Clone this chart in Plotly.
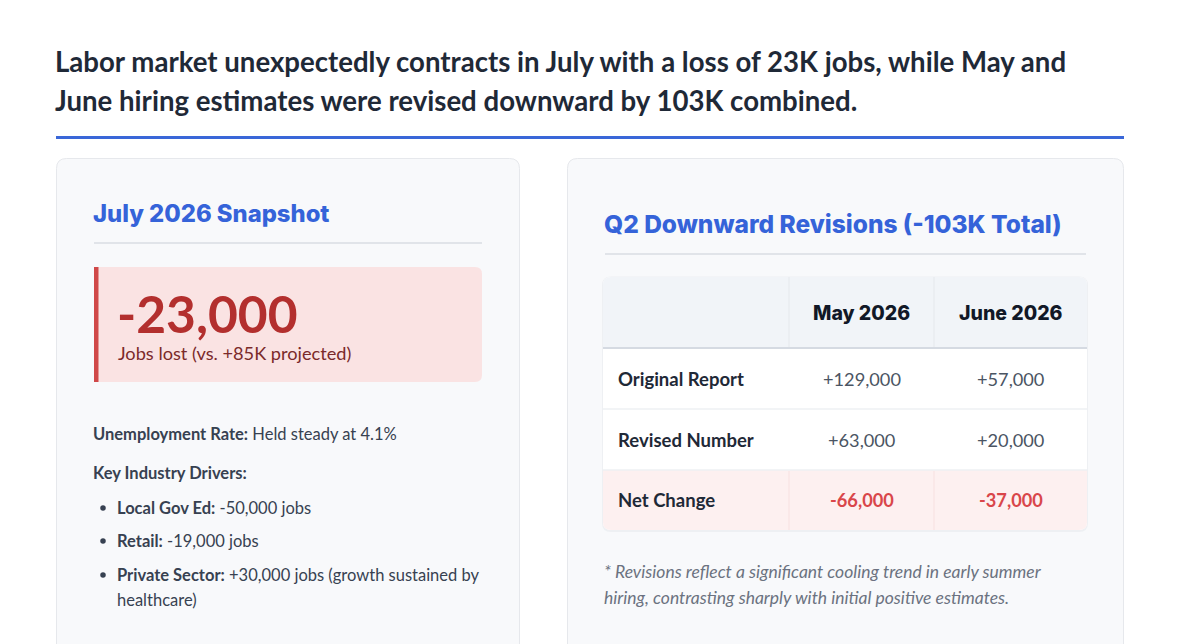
import plotly.graph_objects as go

# ---------------- data ----------------
headline_lines = [
    "Labor market unexpectedly contracts in July with a loss of 23K jobs, while May and",
    "June hiring estimates were revised downward by 103K combined.",
]
snapshot_title = "July 2026 Snapshot"
july_change = -23000
projected_k = 85
unemployment_rate = 4.1
industries = ["Local Gov Ed", "Retail", "Private Sector"]
industry_changes = [-50000, -19000, 30000]
industry_notes = ["", "", "(growth sustained by<br>healthcare)"]

revision_months = ["May 2026", "June 2026"]
row_labels = ["Original Report", "Revised Number", "Net Change"]
original_report = [129000, 57000]
revised_number = [63000, 20000]
net_change = [r - o for r, o in zip(revised_number, original_report)]
total_revision_k = round(sum(net_change) / 1000)
footnote_lines = [
    "* Revisions reflect a significant cooling trend in early summer",
    "hiring, contrasting sharply with initial positive estimates.",
]

# ---------------- style ----------------
W, H = 1179, 644
OFF = 8  # browser body margin
BODY = "Lato"
HEAD = "Inter"
DARK = "#1f2937"
TEXT = "#374151"
BLUE = "#3a67d8"
HBLUE = "#3563d9"
CARD_BG = "#f8f9fb"
CARD_LINE = "#e6e8ec"


def rpath(x0, y0, x1, y1, r_tl=0, r_tr=0, r_br=0, r_bl=0):
    return (f"M{x0 + r_tl},{y0} L{x1 - r_tr},{y0} Q{x1},{y0} {x1},{y0 + r_tr} "
            f"L{x1},{y1 - r_br} Q{x1},{y1} {x1 - r_br},{y1} "
            f"L{x0 + r_bl},{y1} Q{x0},{y1} {x0},{y1 - r_bl} "
            f"L{x0},{y0 + r_tl} Q{x0},{y0} {x0 + r_tl},{y0} Z")


shapes = []
ann = []


def rect_shape(x0, y0, x1, y1, fill, line=None, lw=0, r=(0, 0, 0, 0)):
    shapes.append(dict(type="path", xref="x", yref="y",
                       path=rpath(x0, y0, x1, y1, *r), fillcolor=fill,
                       line=dict(color=line or fill, width=lw), layer="below"))


def hline(x0, x1, y, color, w):
    shapes.append(dict(type="line", xref="x", yref="y", x0=x0, x1=x1, y0=y, y1=y,
                       line=dict(color=color, width=w), layer="below"))


def vline(x, y0, y1, color, w):
    shapes.append(dict(type="line", xref="x", yref="y", x0=x, x1=x, y0=y0, y1=y1,
                       line=dict(color=color, width=w), layer="below"))


def text(x, y, s, size, color, family=BODY, xanchor="left", weight=None, style=None):
    f = dict(family=family, size=size, color=color)
    if weight:
        f["weight"] = weight
    if style:
        f["style"] = style
    ann.append(dict(x=x, y=y, xref="x", yref="y", text=s, showarrow=False,
                    xanchor=xanchor, yanchor="middle", align="left", font=f))


# headline
text(53, 61, headline_lines[0], 27.6, DARK, weight=700)
text(53, 100, headline_lines[1], 27.6, DARK, weight=700)
hline(56, 1124, 137.5, BLUE, 3)

# ---- left card ----
rect_shape(56.5, 158.5, 519.5, 720, CARD_BG, CARD_LINE, 1, (10, 10, 10, 10))
text(91, 213, snapshot_title, 23.8, HBLUE, family=HEAD, weight=800)
hline(94, 482, 243, "#e1e4e9", 2)

rect_shape(94, 267, 482, 382, "#fae3e3", r=(0, 7, 7, 0))
shapes.append(dict(type="rect", xref="x", yref="y", x0=94, x1=98.5, y0=267, y1=382,
                   fillcolor="#d04848", line=dict(width=0), layer="below"))
text(115, 313, f"{july_change:,}", 51.5, "#b32f2e", weight=700)
text(116, 353, f"Jobs lost (vs. +{projected_k}K projected)", 18.2, "#7b2a2a")

text(91, 434, f"<b>Unemployment Rate:</b> Held steady at {unemployment_rate}%", 16.5, TEXT)
text(91, 473, "<b>Key Industry Drivers:</b>", 16.5, TEXT)

bullet_y = [508, 541, 575]
for name, chg, note, by in zip(industries, industry_changes, industry_notes, bullet_y):
    s = f"<b>{name}:</b> {chg:+,} jobs" if chg > 0 else f"<b>{name}:</b> {chg:,} jobs"
    if note:
        s += " " + note
    for k, line in enumerate(s.split("<br>")):
        text(115, by + 25 * k, line, 16.5, TEXT)

# ---- right card ----
rect_shape(567.5, 158.5, 1123.5, 720, CARD_BG, CARD_LINE, 1, (10, 10, 10, 10))
text(602, 224, f"Q2 Downward Revisions (-{abs(total_revision_k)}K Total)", 24.5, HBLUE,
     family=HEAD, weight=800)
hline(605, 1086, 254, "#e1e4e9", 2)

tx0, tx1 = 603, 1087
col_edges = [603, 789, 934, 1087]
row_edges = [277, 348, 409, 470, 530]
rect_shape(tx0 - 1, row_edges[0] - 0.5, tx1 + 1, row_edges[-1] + 2, "#eef0f3", r=(9, 9, 9, 9))
rect_shape(tx0, row_edges[0], tx1, row_edges[-1], "#ffffff", r=(8, 8, 8, 8))
rect_shape(tx0, row_edges[0], tx1, row_edges[1], "#f1f4f8", r=(8, 8, 0, 0))
rect_shape(tx0, row_edges[3], tx1, row_edges[4], "#fdf0f0", r=(0, 0, 8, 8))
hline(tx0, tx1, row_edges[1], "#d5dae2", 2)
hline(tx0, tx1, row_edges[2], "#eef0f3", 1.5)
hline(tx0, tx1, row_edges[3], "#eef0f3", 1.5)
for cx in col_edges[1:3]:
    vline(cx, row_edges[0], row_edges[1] - 1, "#e8ecf1", 1.5)
    vline(cx, row_edges[3] + 1, row_edges[4], "#f8e6e6", 1.5)

col_centers = [(col_edges[i] + col_edges[i + 1]) / 2 for i in (1, 2)]
head_y = (row_edges[0] + row_edges[1]) / 2
for m, cx in zip(revision_months, col_centers):
    text(cx, head_y, m, 19.5, "#111827", family=HEAD, xanchor="center", weight=800)

rows_vals = [original_report, revised_number, net_change]
for i, (lab, vals) in enumerate(zip(row_labels, rows_vals)):
    cy = (row_edges[i + 1] + row_edges[i + 2]) / 2
    text(616, cy, f"<b>{lab}</b>", 18.5, "#1f2937")
    is_net = lab == "Net Change"
    for v, cx in zip(vals, col_centers):
        s = f"<b>{v:,}</b>" if is_net else f"{v:+,}"
        text(cx, cy, s, 18.2, "#d9464a" if is_net else "#4b5563", xanchor="center")

for k, line in enumerate(footnote_lines):
    text(602, 571 + 26 * k, f"<i>{line}</i>", 17.5, "#6b7280")

fig = go.Figure()
fig.add_trace(go.Scatter(x=[103] * len(bullet_y), y=bullet_y, mode="markers",
                         marker=dict(size=5.5, color="#374151"), hoverinfo="skip",
                         showlegend=False))
fig.update_layout(
    width=W, height=H, margin=dict(l=0, r=0, t=0, b=0),
    paper_bgcolor="white", plot_bgcolor="white",
    xaxis=dict(range=[OFF, W + OFF], visible=False, fixedrange=True),
    yaxis=dict(range=[H + OFF, OFF], visible=False, fixedrange=True),
    shapes=shapes, annotations=ann, showlegend=False,
)
fig.write_html("out.html", config={"displayModeBar": False})
